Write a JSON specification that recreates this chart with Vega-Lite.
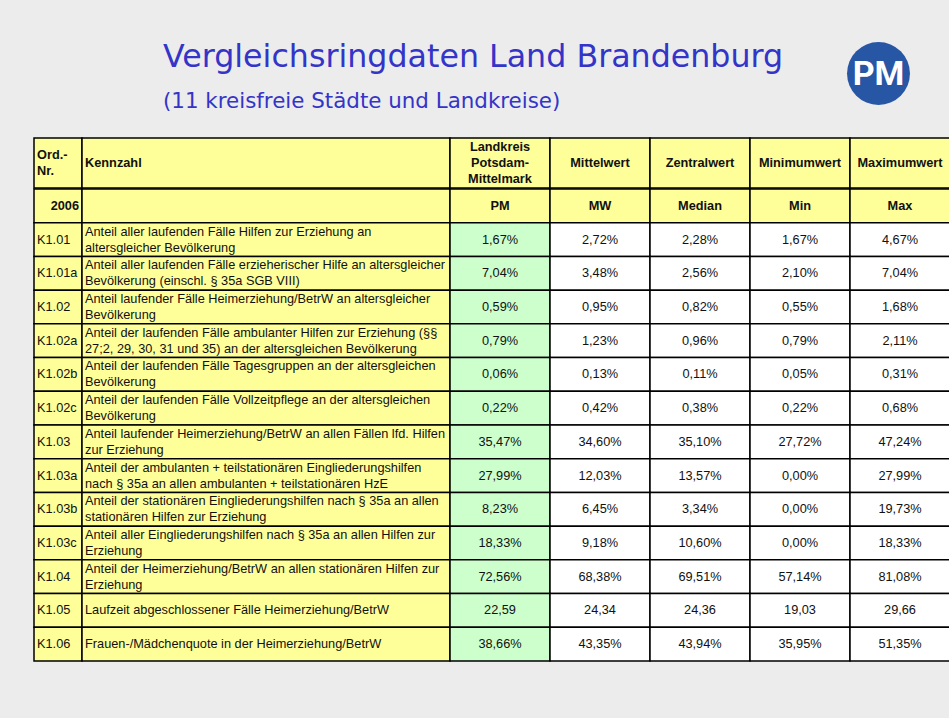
{
  "$schema": "https://vega.github.io/schema/vega-lite/v6.json",
  "background": "#ececec",
  "padding": {"left": 33, "top": 38, "right": 0, "bottom": 57},
  "config": {
    "view": {"stroke": null},
    "locale": {"number": {"decimal": ",", "thousands": ".", "grouping": [3], "currency": ["", " €"]}},
    "text": {"font": "Liberation Sans", "fontSize": 12.75, "color": "#111111", "lineBreak": "\n", "lineHeight": 16},
    "rect": {"stroke": "#000000", "strokeWidth": 1.5}
  },
  "datasets": {
    "kennzahlen": [
      {"nr": "K1.01", "kennzahl": "Anteil aller laufenden Fälle Hilfen zur Erziehung an\naltersgleicher  Bevölkerung", "typ": "Anteil", "PM": 0.0167, "MW": 0.0272, "Median": 0.0228, "Min": 0.0167, "Max": 0.0467},
      {"nr": "K1.01a", "kennzahl": "Anteil aller laufenden Fälle erzieherischer Hilfe an altersgleicher\nBevölkerung (einschl. § 35a SGB VIII)", "typ": "Anteil", "PM": 0.0704, "MW": 0.0348, "Median": 0.0256, "Min": 0.021, "Max": 0.0704},
      {"nr": "K1.02", "kennzahl": "Anteil laufender Fälle Heimerziehung/BetrW an altersgleicher\nBevölkerung", "typ": "Anteil", "PM": 0.0059, "MW": 0.0095, "Median": 0.0082, "Min": 0.0055, "Max": 0.0168},
      {"nr": "K1.02a", "kennzahl": "Anteil der laufenden Fälle ambulanter Hilfen zur Erziehung (§§\n27;2, 29, 30, 31 und 35) an der altersgleichen Bevölkerung", "typ": "Anteil", "PM": 0.0079, "MW": 0.0123, "Median": 0.0096, "Min": 0.0079, "Max": 0.0211},
      {"nr": "K1.02b", "kennzahl": "Anteil der laufenden Fälle Tagesgruppen an der altersgleichen\nBevölkerung", "typ": "Anteil", "PM": 0.0006, "MW": 0.0013, "Median": 0.0011, "Min": 0.0005, "Max": 0.0031},
      {"nr": "K1.02c", "kennzahl": "Anteil der laufenden Fälle Vollzeitpflege an der altersgleichen\nBevölkerung", "typ": "Anteil", "PM": 0.0022, "MW": 0.0042, "Median": 0.0038, "Min": 0.0022, "Max": 0.0068},
      {"nr": "K1.03", "kennzahl": "Anteil laufender Heimerziehung/BetrW an allen Fällen lfd. Hilfen\nzur Erziehung", "typ": "Anteil", "PM": 0.3547, "MW": 0.346, "Median": 0.351, "Min": 0.2772, "Max": 0.4724},
      {"nr": "K1.03a", "kennzahl": "Anteil der ambulanten + teilstationären Eingliederungshilfen\nnach § 35a an allen ambulanten + teilstationären HzE", "typ": "Anteil", "PM": 0.2799, "MW": 0.1203, "Median": 0.1357, "Min": 0, "Max": 0.2799},
      {"nr": "K1.03b", "kennzahl": "Anteil der stationären Eingliederungshilfen nach § 35a an allen\nstationären Hilfen zur Erziehung", "typ": "Anteil", "PM": 0.0823, "MW": 0.0645, "Median": 0.0334, "Min": 0, "Max": 0.1973},
      {"nr": "K1.03c", "kennzahl": "Anteil aller Eingliederungshilfen nach § 35a an allen Hilfen zur\nErziehung", "typ": "Anteil", "PM": 0.1833, "MW": 0.0918, "Median": 0.106, "Min": 0, "Max": 0.1833},
      {"nr": "K1.04", "kennzahl": "Anteil der Heimerziehung/BetrW an allen stationären Hilfen zur\nErziehung", "typ": "Anteil", "PM": 0.7256, "MW": 0.6838, "Median": 0.6951, "Min": 0.5714, "Max": 0.8108},
      {"nr": "K1.05", "kennzahl": "Laufzeit abgeschlossener Fälle Heimerziehung/BetrW", "typ": "Dauer", "PM": 22.59, "MW": 24.34, "Median": 24.36, "Min": 19.03, "Max": 29.66},
      {"nr": "K1.06", "kennzahl": "Frauen-/Mädchenquote in der Heimerziehung/BetrW", "typ": "Anteil", "PM": 0.3866, "MW": 0.4335, "Median": 0.4394, "Min": 0.3595, "Max": 0.5135}
    ]
  },
  "spacing": 24,
  "resolve": {"scale": {"x": "independent", "y": "independent"}},
  "vconcat": [
    {
      "spacing": 0,
      "resolve": {"scale": {"x": "independent", "y": "independent"}},
      "hconcat": [
        {
          "width": 809,
          "height": 1,
          "title": {
            "text": "Vergleichsringdaten Land Brandenburg",
            "subtitle": "(11 kreisfreie Städte und Landkreise)",
            "orient": "bottom",
            "anchor": "start",
            "dx": 129,
            "font": "DejaVu Sans",
            "fontSize": 31.7,
            "fontWeight": "normal",
            "color": "#3434c8",
            "subtitleFont": "DejaVu Sans",
            "subtitleFontSize": 21.4,
            "subtitleColor": "#3434c8",
            "subtitlePadding": 17,
            "offset": 3
          },
          "data": {"values": [{"leer": ""}]},
          "mark": {"type": "point", "opacity": 0, "size": 0, "strokeWidth": 0},
          "encoding": {}
        },
        {
          "width": 71,
          "height": 71,
          "data": {"values": [{"logo": "PM"}]},
          "layer": [
            {"mark": {"type": "point", "shape": "circle", "size": 3960, "filled": true, "color": "#2756a5", "opacity": 1, "strokeWidth": 0}, "encoding": {}},
            {"mark": {"type": "text", "font": "Roboto", "fontSize": 34, "fontWeight": "bold", "color": "#ffffff", "dy": 1}, "encoding": {"text": {"field": "logo"}}}
          ]
        }
      ]
    },
    {
      "spacing": -1.5,
      "resolve": {"scale": {"x": "independent", "y": "independent"}},
      "vconcat": [
        {
          "spacing": 0,
          "bounds": "flush",
          "resolve": {"scale": {"x": "independent", "y": "independent"}},
          "hconcat": [
            {
              "width": 48,
              "height": 50,
              "data": {"values": [{"kopf": "Ord.-\nNr."}]},
              "encoding": {
                "x": {"datum": "Ord.-Nr.", "type": "nominal", "scale": {"paddingInner": 0, "paddingOuter": 0}, "axis": null},
                "y": {"datum": "Kopf", "type": "nominal", "scale": {"paddingInner": 0, "paddingOuter": 0}, "axis": null}
              },
              "layer": [
                {"mark": {"type": "rect", "fill": "#ffff99"}},
                {"mark": {"type": "text", "align": "left", "dx": 3, "dy": -8, "fontWeight": "bold"}, "encoding": {"x": {"datum": "Ord.-Nr.", "type": "nominal", "bandPosition": 0, "scale": {"paddingInner": 0, "paddingOuter": 0}, "axis": null}, "text": {"field": "kopf"}}}
              ]
            },
            {
              "width": 368,
              "height": 50,
              "data": {"values": [{"kopf": "Kennzahl"}]},
              "encoding": {
                "x": {"datum": "Kennzahl", "type": "nominal", "scale": {"paddingInner": 0, "paddingOuter": 0}, "axis": null},
                "y": {"datum": "Kopf", "type": "nominal", "scale": {"paddingInner": 0, "paddingOuter": 0}, "axis": null}
              },
              "layer": [
                {"mark": {"type": "rect", "fill": "#ffff99"}},
                {"mark": {"type": "text", "align": "left", "dx": 3, "fontWeight": "bold"}, "encoding": {"x": {"datum": "Kennzahl", "type": "nominal", "bandPosition": 0, "scale": {"paddingInner": 0, "paddingOuter": 0}, "axis": null}, "text": {"field": "kopf"}}}
              ]
            },
            {
              "width": 500,
              "height": 50,
              "data": {"values": [
                {"key": "PM", "kopf": "Landkreis\nPotsdam-\nMittelmark"},
                {"key": "MW", "kopf": "Mittelwert"},
                {"key": "Median", "kopf": "Zentralwert"},
                {"key": "Min", "kopf": "Minimumwert"},
                {"key": "Max", "kopf": "Maximumwert"}
              ]},
              "encoding": {
                "x": {"field": "key", "type": "nominal", "scale": {"domain": ["PM", "MW", "Median", "Min", "Max"], "paddingInner": 0, "paddingOuter": 0}, "axis": null},
                "y": {"datum": "Kopf", "type": "nominal", "scale": {"paddingInner": 0, "paddingOuter": 0}, "axis": null}
              },
              "layer": [
                {"mark": {"type": "rect", "fill": "#ffff99"}},
                {"transform": [{"filter": "datum.key === 'PM'"}], "mark": {"type": "text", "fontWeight": "bold", "dy": -16}, "encoding": {"text": {"field": "kopf"}}},
                {"transform": [{"filter": "datum.key !== 'PM'"}], "mark": {"type": "text", "fontWeight": "bold"}, "encoding": {"text": {"field": "kopf"}}}
              ]
            }
          ]
        },
        {
          "spacing": 0,
          "bounds": "flush",
          "resolve": {"scale": {"x": "independent", "y": "independent"}},
          "hconcat": [
            {
              "width": 48,
              "height": 472,
              "encoding": {
                "x": {"datum": "Ord.-Nr.", "type": "nominal", "scale": {"paddingInner": 0, "paddingOuter": 0}, "axis": null},
                "y": {"field": "nr", "type": "nominal", "scale": {"domain": ["2006", "K1.01", "K1.01a", "K1.02", "K1.02a", "K1.02b", "K1.02c", "K1.03", "K1.03a", "K1.03b", "K1.03c", "K1.04", "K1.05", "K1.06"], "paddingInner": 0, "paddingOuter": 0}, "axis": null}
              },
              "layer": [
                {"data": {"values": [{"nr": "2006"}]}, "mark": {"type": "rect", "fill": "#ffff99"}},
                {"data": {"name": "kennzahlen"}, "mark": {"type": "rect", "fill": "#ffff99"}},
                {"data": {"values": [{"nr": "2006"}]}, "mark": {"type": "text", "align": "right", "dx": -3, "fontWeight": "bold"}, "encoding": {"x": {"datum": "Ord.-Nr.", "type": "nominal", "bandPosition": 1, "scale": {"paddingInner": 0, "paddingOuter": 0}, "axis": null}, "text": {"field": "nr"}}},
                {"data": {"name": "kennzahlen"}, "mark": {"type": "text", "align": "left", "dx": 3}, "encoding": {"x": {"datum": "Ord.-Nr.", "type": "nominal", "bandPosition": 0, "scale": {"paddingInner": 0, "paddingOuter": 0}, "axis": null}, "text": {"field": "nr"}}}
              ]
            },
            {
              "width": 368,
              "height": 472,
              "encoding": {
                "x": {"datum": "Kennzahl", "type": "nominal", "scale": {"paddingInner": 0, "paddingOuter": 0}, "axis": null},
                "y": {"field": "nr", "type": "nominal", "scale": {"domain": ["2006", "K1.01", "K1.01a", "K1.02", "K1.02a", "K1.02b", "K1.02c", "K1.03", "K1.03a", "K1.03b", "K1.03c", "K1.04", "K1.05", "K1.06"], "paddingInner": 0, "paddingOuter": 0}, "axis": null}
              },
              "layer": [
                {"data": {"values": [{"nr": "2006"}]}, "mark": {"type": "rect", "fill": "#ffff99"}},
                {"data": {"name": "kennzahlen"}, "mark": {"type": "rect", "fill": "#ffff99"}},
                {"data": {"name": "kennzahlen"}, "transform": [{"filter": "indexof(datum.kennzahl, '\\n') >= 0"}], "mark": {"type": "text", "align": "left", "dx": 3, "dy": -8}, "encoding": {"x": {"datum": "Kennzahl", "type": "nominal", "bandPosition": 0, "scale": {"paddingInner": 0, "paddingOuter": 0}, "axis": null}, "text": {"field": "kennzahl"}}},
                {"data": {"name": "kennzahlen"}, "transform": [{"filter": "indexof(datum.kennzahl, '\\n') < 0"}], "mark": {"type": "text", "align": "left", "dx": 3}, "encoding": {"x": {"datum": "Kennzahl", "type": "nominal", "bandPosition": 0, "scale": {"paddingInner": 0, "paddingOuter": 0}, "axis": null}, "text": {"field": "kennzahl"}}}
              ]
            },
            {
              "width": 500,
              "height": 472,
              "encoding": {
                "x": {"field": "key", "type": "nominal", "scale": {"domain": ["PM", "MW", "Median", "Min", "Max"], "paddingInner": 0, "paddingOuter": 0}, "axis": null},
                "y": {"field": "nr", "type": "nominal", "scale": {"domain": ["2006", "K1.01", "K1.01a", "K1.02", "K1.02a", "K1.02b", "K1.02c", "K1.03", "K1.03a", "K1.03b", "K1.03c", "K1.04", "K1.05", "K1.06"], "paddingInner": 0, "paddingOuter": 0}, "axis": null}
              },
              "layer": [
                {
                  "data": {"values": [
                    {"nr": "2006", "key": "PM"}, {"nr": "2006", "key": "MW"}, {"nr": "2006", "key": "Median"}, {"nr": "2006", "key": "Min"}, {"nr": "2006", "key": "Max"}
                  ]},
                  "layer": [
                    {"mark": {"type": "rect", "fill": "#ffff99"}},
                    {"mark": {"type": "text", "fontWeight": "bold"}, "encoding": {"text": {"field": "key"}}}
                  ]
                },
                {
                  "data": {"name": "kennzahlen"},
                  "transform": [{"fold": ["PM", "MW", "Median", "Min", "Max"], "as": ["key", "wert"]}],
                  "layer": [
                    {"mark": {"type": "rect"}, "encoding": {"fill": {"condition": {"test": "datum.key === 'PM'", "value": "#ccffcc"}, "value": "#ffffff"}}},
                    {"transform": [{"filter": "datum.typ === 'Anteil'"}], "mark": {"type": "text"}, "encoding": {"text": {"field": "wert", "type": "quantitative", "format": ".2%"}}},
                    {"transform": [{"filter": "datum.typ === 'Dauer'"}], "mark": {"type": "text"}, "encoding": {"text": {"field": "wert", "type": "quantitative", "format": ".2f"}}}
                  ]
                }
              ]
            }
          ]
        }
      ]
    }
  ]
}
